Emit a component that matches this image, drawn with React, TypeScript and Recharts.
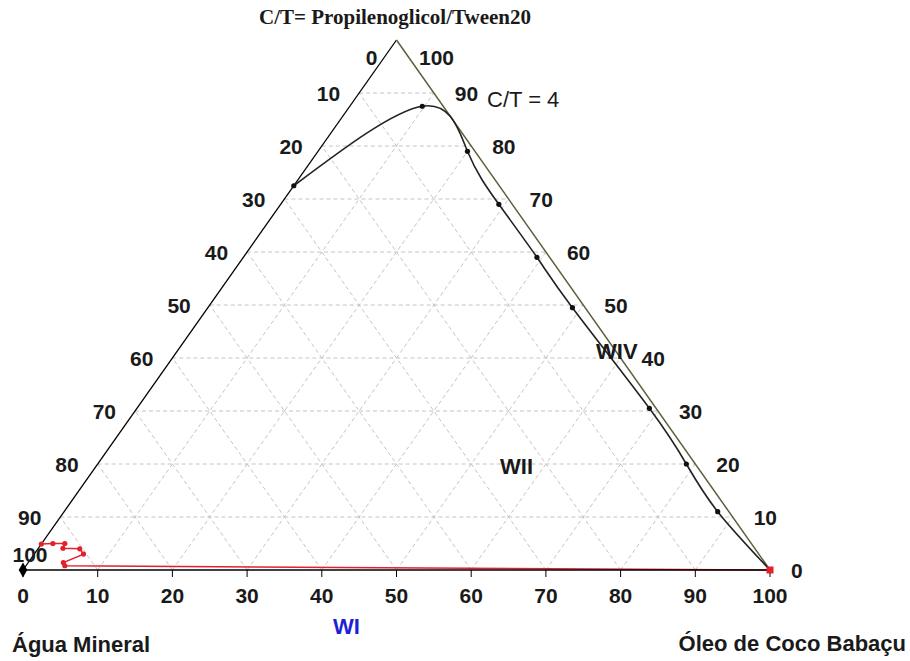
import { ComposedChart, XAxis, YAxis, Line, Scatter, ReferenceLine } from "recharts";

// compositions in % : C/T (Propilenoglicol/Tween20), oil; water = 100 - C/T - oil
const ctCurve = [72.5, 87.5, 79, 69, 59, 49.5, 30.5, 20, 11, 0];
const oilCurve = [0, 9.7, 20, 29.2, 39.3, 48.8, 68.6, 78.8, 87.5, 100];

const ctRed = [4.9, 5.0, 5.0, 4.1, 4.0, 3.0, 1.4, 0.8, 0];
const oilRed = [0, 1.5, 3.1, 3.3, 5.6, 6.6, 4.7, 5.2, 100];

const axisTicks = [0, 10, 20, 30, 40, 50, 60, 70, 80, 90, 100];
const gridLevels = [10, 20, 30, 40, 50, 60, 70, 80, 90];

// ternary -> cartesian (x along the base, y = C/T height)
const toXY = (ct: number, oil: number) => ({ x: oil + ct / 2, y: ct });

const curveData = ctCurve.map((c, i) => toXY(c, oilCurve[i]));
const redData = ctRed.map((c, i) => toXY(c, oilRed[i]));

// left side: water %, 0 at top, 100 at water corner
const leftLabels = axisTicks.map((k) => ({ ...toXY(100 - k, 0), label: k }));
// right side: C/T %, 100 at top, 0 at oil corner
const rightLabels = axisTicks.map((k) => ({ ...toXY(k, 100 - k), label: k }));

const gridSegments = gridLevels.flatMap((k) => [
  [toXY(k, 0), toXY(k, 100 - k)],
  [toXY(0, k), toXY(100 - k, k)],
  [toXY(0, 100 - k), toXY(100 - k, 0)],
]);

const FONT = "'Liberation Sans', Arial, sans-serif";
const tickText = { fontFamily: FONT, fontSize: 21, fontWeight: 700, fill: "#1a1a1a" };

const LeftLabel = (p: any) => {
  const k = p.payload.label;
  let dx = -19;
  let dy = 0;
  let anchor: "end" | "start" = "end";
  if (k === 0) dy = 17;
  if (k === 100) {
    dx = -10.5;
    dy = -16;
    anchor = "start";
  }
  return (
    <text x={p.cx + dx} y={p.cy + dy} dy="0.36em" textAnchor={anchor} {...tickText}>
      {k}
    </text>
  );
};

const RightLabel = (p: any) => {
  const k = p.payload.label;
  const dx = k === 100 ? 22.5 : 21;
  const dy = k === 100 ? 17 : 0;
  return (
    <text x={p.cx + dx} y={p.cy + dy} dy="0.36em" textAnchor="start" {...tickText}>
      {k}
    </text>
  );
};

const RedDot = (p: any) => {
  if (p.index === redData.length - 1) {
    return <rect key={p.index} x={p.cx - 3.5} y={p.cy - 3.5} width={7} height={7} fill="#e3202c" />;
  }
  return <circle key={p.index} cx={p.cx} cy={p.cy} r={2.6} fill="#e3202c" />;
};

const overlay = (extra: any) => ({
  position: "absolute" as const,
  whiteSpace: "nowrap" as const,
  lineHeight: "22px",
  fontFamily: FONT,
  fontSize: 22,
  color: "#1a1a1a",
  ...extra,
});

export default function App() {
  return (
    <div style={{ position: "absolute", left: 0, top: 0, width: 910, height: 661, background: "#fff" }}>
      <ComposedChart width={910} height={661} margin={{ top: 40, right: 140, left: 23, bottom: 61 }}>
        <XAxis
          type="number"
          dataKey="x"
          domain={[0, 100]}
          ticks={axisTicks}
          interval={0}
          height={30}
          tick={tickText}
          tickSize={7}
          tickMargin={11}
          axisLine={{ stroke: "#000", strokeWidth: 1.5 }}
          tickLine={{ stroke: "#000", strokeWidth: 1 }}
        />
        <YAxis type="number" dataKey="y" domain={[0, 100]} hide />

        {gridSegments.map((seg, i) => (
          <ReferenceLine
            key={"g" + i}
            segment={seg}
            stroke="#c4c4c4"
            strokeWidth={1}
            strokeDasharray="4 3"
            ifOverflow="visible"
          />
        ))}

        <ReferenceLine segment={[toXY(0, 0), toXY(100, 0)]} stroke="#000" strokeWidth={1.3} ifOverflow="visible" />
        <ReferenceLine segment={[toXY(0, 100), toXY(100, 0)]} stroke="#5e5e3c" strokeWidth={1.5} ifOverflow="visible" />

        <Line
          data={curveData}
          dataKey="y"
          type="natural"
          stroke="#222"
          strokeWidth={1.6}
          dot={{ r: 2.6, fill: "#111", stroke: "none" }}
          isAnimationActive={false}
        />
        <Line
          data={redData}
          dataKey="y"
          type="linear"
          stroke="#e3202c"
          strokeWidth={1.5}
          dot={RedDot}
          isAnimationActive={false}
        />
        <Scatter
          data={[toXY(0, 0)]}
          shape="diamond"
          fill="#000"
          legendType="none"
          isAnimationActive={false}
        />
        <Scatter data={leftLabels} shape={LeftLabel} isAnimationActive={false} />
        <Scatter data={rightLabels} shape={RightLabel} isAnimationActive={false} />
      </ComposedChart>

      <div
        style={overlay({
          left: 395,
          top: 6,
          transform: "translateX(-50%)",
          fontFamily: "'Liberation Serif', 'Times New Roman', serif",
          fontWeight: 700,
          fontSize: 21,
        })}
      >
        C/T= Propilenoglicol/Tween20
      </div>
      <div style={overlay({ left: 487, top: 89 })}>C/T = 4</div>
      <div style={overlay({ left: 596, top: 341, fontWeight: 700 })}>WIV</div>
      <div style={overlay({ left: 500, top: 456, fontWeight: 700 })}>WII</div>
      <div style={overlay({ left: 333, top: 616, fontWeight: 700, color: "#1f1fd6" })}>WI</div>
      <div style={overlay({ left: 12, top: 634, fontWeight: 700 })}>Água Mineral</div>
      <div style={overlay({ right: 4, top: 633, fontWeight: 700 })}>Óleo de Coco Babaçu</div>
    </div>
  );
}
